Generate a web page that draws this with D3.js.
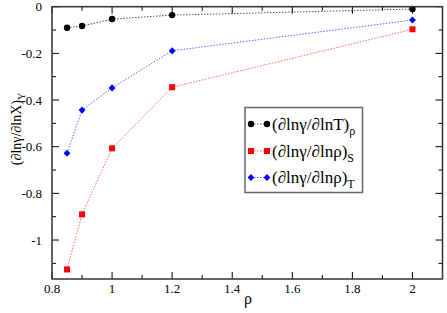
<!DOCTYPE html>
<html><head><meta charset="utf-8">
<script src="https://cdn.jsdelivr.net/npm/d3@7"></script>
<style>body{margin:0;background:#fff}svg{display:block}
svg text{font-family:"Liberation Serif","Times New Roman",Times,serif;}</style>
</head><body>
<svg id="c" width="447" height="313"></svg>
<script>
const rho = [0.85, 0.9, 1.0, 1.2, 2.0];
const seriesT = [-0.090, -0.083, -0.053, -0.036, -0.010];
const seriesS = [-1.126, -0.890, -0.607, -0.345, -0.097];
const seriesRT = [-0.628, -0.443, -0.348, -0.189, -0.057];
const xTicks = [0.8, 1, 1.2, 1.4, 1.6, 1.8, 2];
const xTickLabels = ["0.8", "1", "1.2", "1.4", "1.6", "1.8", "2"];
const yTicks = [0, -0.2, -0.4, -0.6, -0.8, -1];
const yTickLabels = ["0", "-0.2", "-0.4", "-0.6", "-0.8", "-1"];

const svg = d3.select("#c");
const L = 52, R = 442.5, T = 6.7, B = 279;
const x = d3.scaleLinear().domain([0.8, 2.1]).range([L, R]);
const y = d3.scaleLinear().domain([-1.167, 0]).range([B, T]);

const g = svg.append("g");
const xMinor = d3.range(0.8, 2.1001, 0.1);
const yMinor = d3.range(-1.1, 0.0001, 0.1);
xMinor.forEach(v => {
  const isMajor = Math.abs(Math.round(v*10) % 2) === 0;
  const len = isMajor ? 7 : 4;
  g.append("line").attr("x1", x(v)).attr("x2", x(v)).attr("y1", B).attr("y2", B-len).attr("stroke","#000");
  g.append("line").attr("x1", x(v)).attr("x2", x(v)).attr("y1", T).attr("y2", T+len).attr("stroke","#000");
});
yMinor.forEach(v => {
  const isMajor = Math.abs(Math.round(v*10) % 2) === 0;
  const len = isMajor ? 7 : 4;
  g.append("line").attr("y1", y(v)).attr("y2", y(v)).attr("x1", L).attr("x2", L+len).attr("stroke","#000");
  g.append("line").attr("y1", y(v)).attr("y2", y(v)).attr("x1", R).attr("x2", R-len).attr("stroke","#000");
});

xTicks.forEach((v,i) => {
  svg.append("text").attr("x", x(v)).attr("y", B+13.5).attr("text-anchor","middle")
    .attr("font-size", 13).text(xTickLabels[i]);
});
yTicks.forEach((v,i) => {
  svg.append("text").attr("x", L-10).attr("y", y(v)+4.5).attr("text-anchor","end")
    .attr("font-size", 13).text(yTickLabels[i]);
});

svg.append("text").attr("x", 248).attr("y", 304).attr("text-anchor","middle")
  .attr("font-size", 16).text("ρ");

const yl = svg.append("text").attr("transform", "translate(21,129) rotate(-90)")
  .attr("text-anchor","middle").attr("font-size", 14);
yl.append("tspan").text("(∂lnγ/∂lnX)");
yl.append("tspan").attr("font-size", 10).attr("dy", 4).text("Y");

const line = d3.line().x(d => x(d[0])).y(d => y(d[1]));
const series = [
  {vals: seriesT, color: "#000", line: "#555", shape: "circle", sub: "ρ", num: "T"},
  {vals: seriesS, color: "#ff0000", line: "#ff6666", shape: "square", sub: "S", num: "ρ"},
  {vals: seriesRT, color: "#0000ff", line: "#6666ff", shape: "diamond", sub: "T", num: "ρ"}
];
function marker(sel, s, cx, cy) {
  if (s.shape === "circle") sel.append("circle").attr("cx", cx).attr("cy", cy).attr("r", 3.2).attr("fill", s.color);
  else if (s.shape === "square") sel.append("rect").attr("x", cx-3).attr("y", cy-3).attr("width", 6).attr("height", 6).attr("fill", s.color);
  else sel.append("path").attr("d", `M${cx},${cy-3.6}L${cx+3.4},${cy}L${cx},${cy+3.6}L${cx-3.4},${cy}Z`).attr("fill", s.color);
}
series.forEach(s => {
  const pts = rho.map((r,i) => [r, s.vals[i]]);
  svg.append("path").attr("d", line(pts)).attr("fill","none").attr("stroke", s.line)
    .attr("stroke-width", 1).attr("stroke-dasharray", "1.5,1.5");
  pts.forEach(p => marker(svg, s, x(p[0]), y(p[1])));
});

svg.append("rect").attr("x", L).attr("y", T).attr("width", R-L).attr("height", B-T)
  .attr("fill","none").attr("stroke","#333").attr("stroke-width", 1.5);

const lg = svg.append("g");
lg.append("rect").attr("x", 245).attr("y", 107.5).attr("width", 117.5).attr("height", 85)
  .attr("fill","#fff").attr("stroke","#666").attr("stroke-width", 1.5);
const rowsY = [124, 151, 177.5];
series.forEach((s,i) => {
  const ry = rowsY[i];
  lg.append("line").attr("x1", 251).attr("x2", 267).attr("y1", ry).attr("y2", ry)
    .attr("stroke", s.line).attr("stroke-dasharray","1.5,1.5");
  marker(lg, s, 251, ry);
  marker(lg, s, 267, ry);
  const t = lg.append("text").attr("x", 272).attr("y", ry+5.5).attr("font-size", 17);
  t.append("tspan").text("(∂lnγ/∂ln" + s.num + ")");
  t.append("tspan").attr("font-size", 12).attr("dy", 5).text(s.sub);
});
</script>
</body></html>
